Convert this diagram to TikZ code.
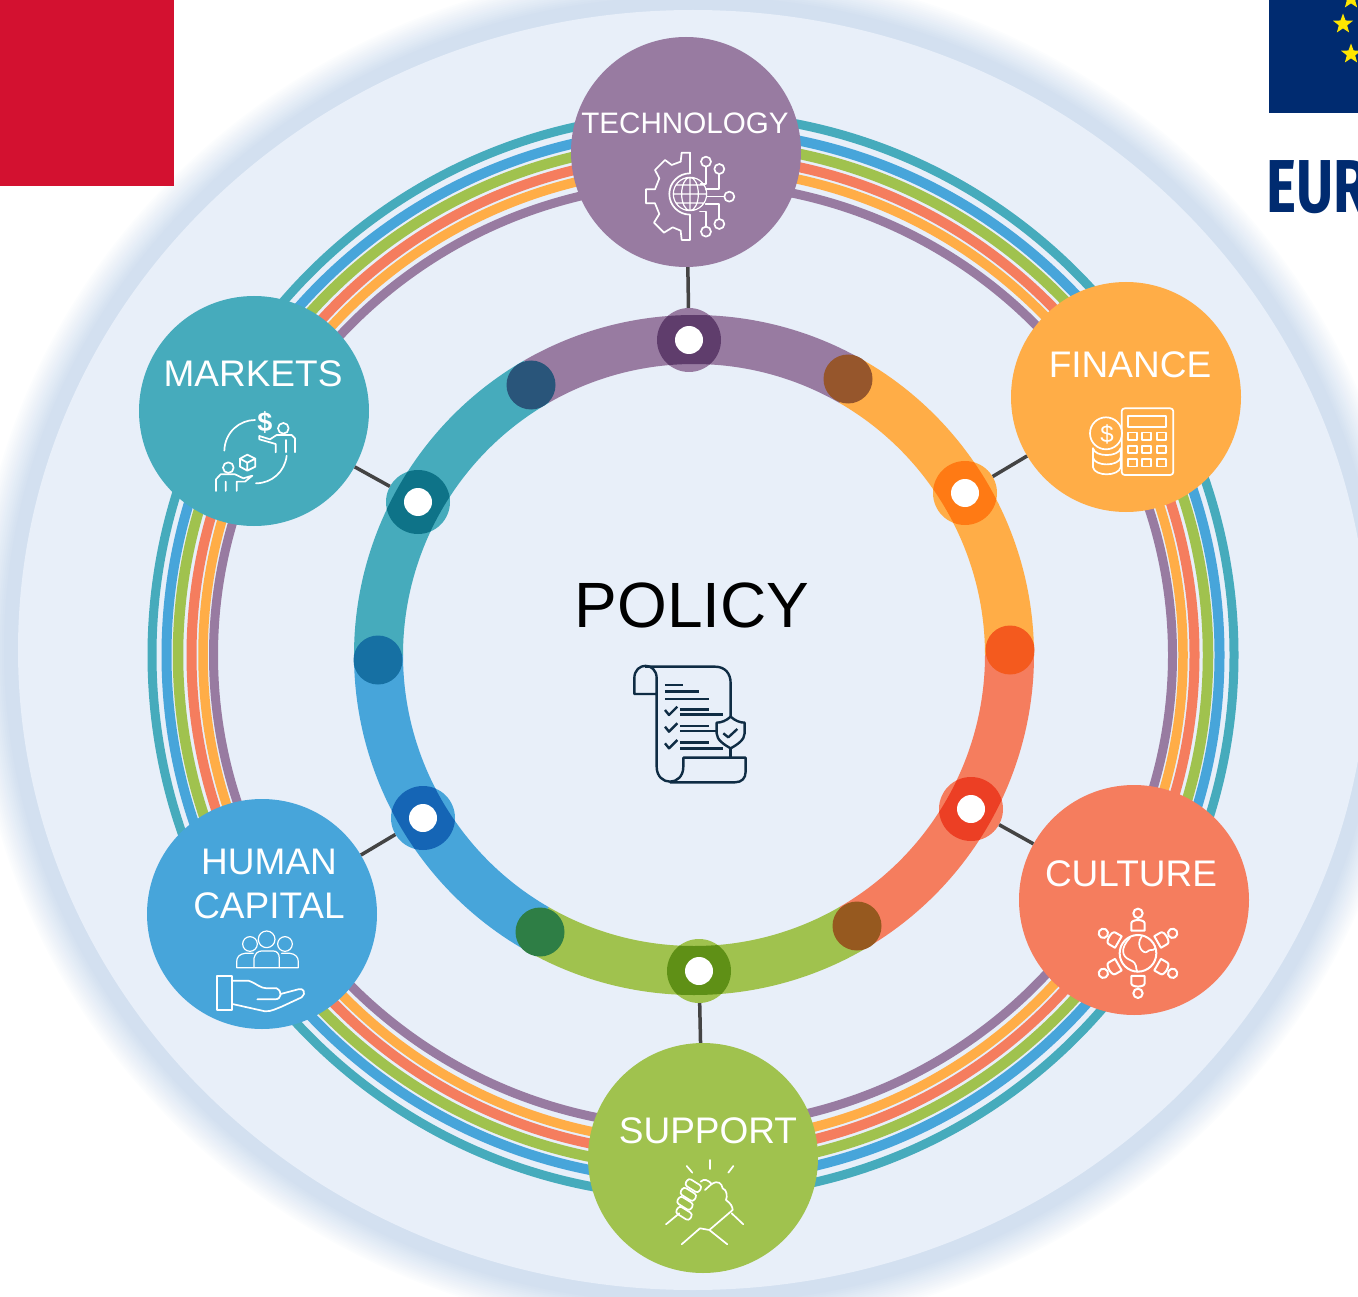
\documentclass[tikz,border=0pt]{standalone}
\usepackage{fontspec}
\setmainfont{Liberation Sans}
\newfontfamily\logofont{Fira Sans}
\usetikzlibrary{shapes.geometric}
\definecolor{techcol}{HTML}{987BA1}
\definecolor{fincol}{HTML}{FFAD47}
\definecolor{culcol}{HTML}{F57D5E}
\definecolor{supcol}{HTML}{A0C24E}
\definecolor{humcol}{HTML}{47A5DA}
\definecolor{markcol}{HTML}{46ABBC}
\definecolor{diskcol}{HTML}{E8EFF9}
\definecolor{halocol}{HTML}{D3E0F0}
\definecolor{linkcol}{HTML}{444444}
\definecolor{navycol}{HTML}{0F2C44}
\definecolor{eublue}{HTML}{002B70}
\definecolor{eured}{HTML}{D31130}
\definecolor{eustarcol}{HTML}{FFE600}
\begin{document}
\begin{tikzpicture}[x=1pt,y=-1pt,
    topic/.style={circle,minimum size=230pt,inner sep=0pt},
    topiclabel/.style={text=white,inner sep=0pt,align=center,
        font={\fontsize{37}{44}\selectfont}},
    socket/.style={circle,minimum size=64pt,inner sep=0pt},
    hole/.style={circle,fill=white,minimum size=28pt,inner sep=0pt},
    junction/.style={circle,minimum size=49pt,inner sep=0pt},
    link/.style={draw=linkcol,line width=3.5pt},
    icon/.style={draw=white,line width=1.7pt,line cap=round,line join=round},
    scroll/.style={draw=navycol,line width=2.4pt,line join=round},
    eustar/.style={star,star points=5,star point ratio=2.4,fill=eustarcol,
        minimum size=21pt,inner sep=0pt},
    ]
    \useasboundingbox (0,0) rectangle (1358,1297);
    \clip (0,0) rectangle (1358,1297);

    % Soft rim and disk
    \foreach \i in {44,42,...,2}{
        \pgfmathsetmacro{\pct}{min(100,100*(46-\i)/32)}
        \fill[halocol!\pct!white] (693,650) ellipse [x radius=675+\i,y radius=640+\i];
    }
    \fill[diskcol] (693,650) ellipse [x radius=675,y radius=640];

    % Corner marks
    \fill[eured] (0,0) rectangle (174,186);
    \fill[eublue] (1269,0) rectangle (1358,113);
    \node[eustar] (star1) at (1351,-1) {};
    \node[eustar] (star2) at (1343,24) {};
    \node[eustar] (star3) at (1351,54) {};
    \node[anchor=west,inner sep=0pt,text=eublue,xscale=.76,transform shape,
        font={\logofont\bfseries\fontsize{75}{80}\selectfont}] (eutext) at (1266,187) {EUR};

    % Outer bands
    \foreach \rx/\ry/\wd/\col in {541/541/9/markcol,526.5/525/10/humcol,515/512/10.5/supcol,
                                  501.5/499/10/culcol,490/487/9.5/fincol,479.5/472/9/techcol}
        \draw[\col,line width=\wd pt] (693,655) ellipse [x radius=\rx,y radius=\ry];

    % Inner ring
    \foreach \sa/\col in {240/techcol,300/fincol,0/culcol,60/supcol,120/humcol,180/markcol}
        \draw[\col,line width=49pt] ([shift={(\sa:315.5)}]694,655) arc [start angle=\sa,end angle=\sa+60,radius=315.5];

    % Joints of the ring
    \foreach \jx/\jy/\col/\name in {531/385/29557A/a,848/379/96562C/b,1010/650/F45A1E/c,
                                    857/926/96591F/d,540/932/2E7E45/e,378/660/1670A3/f}{
        \definecolor{jointcol}{HTML}{\col}
        \node[junction,fill=jointcol] (joint\name) at (\jx,\jy) {};
    }

    % Sockets on the ring
    \foreach \sx/\sy/\col/\dark/\name in {689/340/techcol/5F3D6C/tech,965/493/fincol/FF7A14/fin,
                                          971/809/culcol/EC3F24/cul,699/971/supcol/5F9016/sup,
                                          423/818/humcol/1565B5/hum,418/502/markcol/0E7388/mark}{
        \definecolor{darkcol}{HTML}{\dark}
        \node[socket,fill=\col] (sock\name) at (\sx,\sy) {};
        \begin{scope}
            \clip (\sx,\sy) circle (32);
            \draw[darkcol,line width=49pt] (694,655) circle (315.5);
        \end{scope}
        \node[hole] (hole\name) at (\sx,\sy) {};
    }

    % Topic circles
    \node[topic,fill=techcol] (tech) at (686,152) {};
    \node[topic,fill=fincol] (fin) at (1126,397) {};
    \node[topic,fill=culcol] (cul) at (1134,900) {};
    \node[topic,fill=supcol] (sup) at (703,1158) {};
    \node[topic,fill=humcol] (hum) at (262,914) {};
    \node[topic,fill=markcol] (mark) at (254,411) {};

    \draw[link] (tech) -- (socktech);
    \draw[link] (fin) -- (sockfin);
    \draw[link] (cul) -- (sockcul);
    \draw[link] (sup) -- (socksup);
    \draw[link] (hum) -- (sockhum);
    \draw[link] (mark) -- (sockmark);

    \node[topiclabel,font={\fontsize{29.6}{36}\selectfont}] (techlabel) at (685,123) {TECHNOLOGY};
    \node[topiclabel] (finlabel) at (1130,365) {FINANCE};
    \node[topiclabel] (cullabel) at (1131,874) {CULTURE};
    \node[topiclabel] (suplabel) at (708,1131) {SUPPORT};
    \node[topiclabel] (humlabel) at (269,884) {HUMAN\\CAPITAL};
    \node[topiclabel] (marklabel) at (253,374) {MARKETS};
    \node[inner sep=0pt,font={\fontsize{64}{70}\selectfont}] (policy) at (692,605) {POLICY};

    % Gear and globe
    \begin{scope}[shift={(560,30)},scale=.3333]
        \draw[icon] (390,368) -- (365,368) -- (362,395) -- (335,405) -- (315,390) -- (285,420)
            -- (298,445) -- (285,478) -- (258,478) -- (258,520) -- (285,520) -- (298,552)
            -- (282,578) -- (312,608) -- (338,592) -- (362,602) -- (365,630) -- (390,630) -- (390,555);
        \draw[icon] (390,368) -- (390,430);
        \draw[icon] (390,430) arc [start angle=270,end angle=90,radius=62];
        \draw[icon,line width=1.2pt] (390,492) circle (50) (390,492) ellipse [x radius=25,y radius=50]
            (340,492) -- (440,492) (390,442) -- (390,542) (348,465) -- (432,465) (348,519) -- (432,519);
        \draw[icon] (438,395) circle (15) (478,417) circle (15) (508,500) circle (15)
            (478,582) circle (15) (438,605) circle (15);
        \draw[icon] (438,410) -- (438,462) -- (422,462) (478,432) -- (478,478) -- (437,478)
            (493,500) -- (440,500) (478,567) -- (478,522) -- (437,522) (438,590) -- (438,545) -- (420,545);
    \end{scope}

    % Coins and calculator
    \begin{scope}[shift={(1000,270)},scale=.3333]
        \draw[icon,rounded corners=3pt] (365,415) rectangle (520,615);
        \draw[icon] (385,437) rectangle (497,470);
        \foreach \kx in {385,427,470}
            \foreach \ky in {488,528,568}
                \draw[icon] (\kx,\ky) rectangle +(27,22);
        \draw[icon,fill=fincol] (318,490) circle (48);
        \node[inner sep=0pt,text=white,font={\fontsize{24}{25}\selectfont}] (coin) at (321,492) {\$};
        \draw[icon] (279,535) -- (279,592) .. controls (285,620) and (355,620) .. (362,592) -- (362,535);
        \draw[icon] (279,563) .. controls (285,590) and (355,590) .. (362,563);
        \draw[icon] (279,535) .. controls (285,562) and (355,562) .. (362,535);
    \end{scope}

    % Exchange
    \begin{scope}[shift={(130,290)},scale=.3333]
        \draw[icon] (283,482) .. controls (285,425) and (330,390) .. (375,390);
        \draw[icon] (470,497) .. controls (465,545) and (425,580) .. (378,580);
        \node[inner sep=0pt,text=white,font={\bfseries\fontsize{27}{28}\selectfont}] (coin2) at (405,396) {\$};
        \draw[icon] (460,415) circle (16) (295,533) circle (16);
        \draw[icon] (495,487) -- (495,445) -- (485,435) -- (440,435) -- (420,448) -- (388,438)
            -- (388,448) -- (437,462) -- (437,487) (468,487) -- (468,450);
        \draw[icon] (258,603) -- (258,568) -- (272,553) -- (315,553) -- (340,565) -- (367,557)
            -- (345,575) -- (320,575) -- (320,603) (287,603) -- (287,575);
        \draw[icon] (352,494) -- (376,506) -- (376,530) -- (352,542) -- (330,530) -- (330,506) -- cycle
            (330,506) -- (352,518) -- (376,506) (352,518) -- (352,542);
    \end{scope}

    % People and open hand
    \begin{scope}[shift={(140,790)},scale=.3333]
        \draw[icon,line width=1.2pt] (330,462) circle (22) (380,448) circle (25) (435,462) circle (22);
        \draw[icon,line width=1.2pt] (342,533) -- (342,505) .. controls (345,490) and (355,483) .. (365,483) -- (400,483)
            .. controls (410,483) and (418,490) .. (418,505) -- (418,533);
        \draw[icon,line width=1.2pt] (290,533) -- (475,533) -- (475,515) .. controls (475,500) and (465,492) .. (450,490) -- (425,490)
            (290,533) -- (290,515) .. controls (290,500) and (300,492) .. (315,490) -- (340,490);
        \draw[icon] (231,558) rectangle (277,660);
        \draw[icon] (277,572) -- (325,572) .. controls (350,580) and (360,595) .. (380,595) -- (410,595)
            .. controls (428,605) and (425,628) .. (405,628) -- (352,628);
        \draw[icon] (277,642) -- (375,664) .. controls (395,665) and (410,655) .. (425,650) -- (485,622)
            .. controls (500,610) and (490,592) .. (475,598) -- (422,612);
    \end{scope}

    % Globe among people
    \begin{scope}[shift={(1010,780)},scale=.3333]
        \draw[icon,line width=2pt] (384,520) circle (55);
        \draw[icon] (360,473) .. controls (330,505) and (335,530) .. (360,540) .. controls (385,550) and (375,565) .. (382,575);
        \draw[icon] (395,470) .. controls (375,495) and (400,525) .. (412,515) .. controls (420,505) and (430,515) .. (435,505);
        \foreach \ang in {0,60,...,300}{
            \begin{scope}[shift={(384,520)},rotate=\ang]
                \draw[icon,line width=2pt] (0,-120) circle (14);
                \draw[icon,line width=2pt] (-20,-68) -- (20,-68) -- (20,-90) .. controls (20,-103) and (-20,-103) .. (-20,-90) -- cycle;
            \end{scope}
        }
    \end{scope}

    % Handshake
    \begin{scope}[shift={(580,1040)},scale=.3333]
        \draw[icon] (320,378) -- (337,398) (390,360) -- (390,387) (460,378) -- (445,398);
        \draw[icon] (258,553) -- (298,520) (490,553) -- (455,520);
        \draw[icon] (305,613) -- (360,565) -- (388,570) -- (442,613) (388,570) -- (458,510);
        \foreach \fx/\fy in {340/437,325/463,315/490,312/520}
            \draw[icon,rounded corners=3pt,rotate around={-32:(\fx,\fy)}] (\fx-24,\fy-12) rectangle (\fx+24,\fy+12);
        \draw[icon] (362,425) .. controls (372,415) and (385,420) .. (395,432) -- (375,450);
        \draw[icon] (395,432) .. controls (415,420) and (425,430) .. (428,445) .. controls (442,450) and (442,470) .. (438,480)
            .. controls (452,490) and (458,500) .. (458,510);
    \end{scope}

    % Policy scroll
    \begin{scope}[shift={(600,650)},scale=.3333]
        \draw[scroll] (170,132) -- (103,132) -- (103,85) .. controls (103,35) and (170,35) .. (170,85)
            -- (170,350) .. controls (170,410) and (250,410) .. (250,350) -- (250,323) -- (437,323) -- (437,365)
            .. controls (437,385) and (425,397) .. (405,397) -- (210,397);
        \draw[scroll] (135,50) -- (345,50) .. controls (375,50) and (392,70) .. (392,100) -- (392,200);
        \draw[scroll] (392,293) -- (392,323);
        \draw[scroll] (392,200) .. controls (405,212) and (420,218) .. (434,218) -- (434,250)
            .. controls (434,270) and (410,285) .. (392,295) .. controls (374,285) and (350,270) .. (350,250)
            -- (350,218) .. controls (364,218) and (379,212) .. (392,200) -- cycle;
        \draw[scroll] (370,250) -- (385,262) -- (412,237);
        \draw[scroll] (195,105) -- (250,105) (195,125) -- (298,125) (195,147) -- (328,147)
            (240,178) -- (328,178) (240,193) -- (370,193) (240,228) -- (328,228) (240,243) -- (350,243)
            (240,278) -- (328,278) (240,295) -- (370,295);
        \foreach \cy in {0,50,100}
            \draw[scroll] (195,180+\cy) -- (207,195+\cy) -- (232,170+\cy);
    \end{scope}
\end{tikzpicture}
\end{document}
